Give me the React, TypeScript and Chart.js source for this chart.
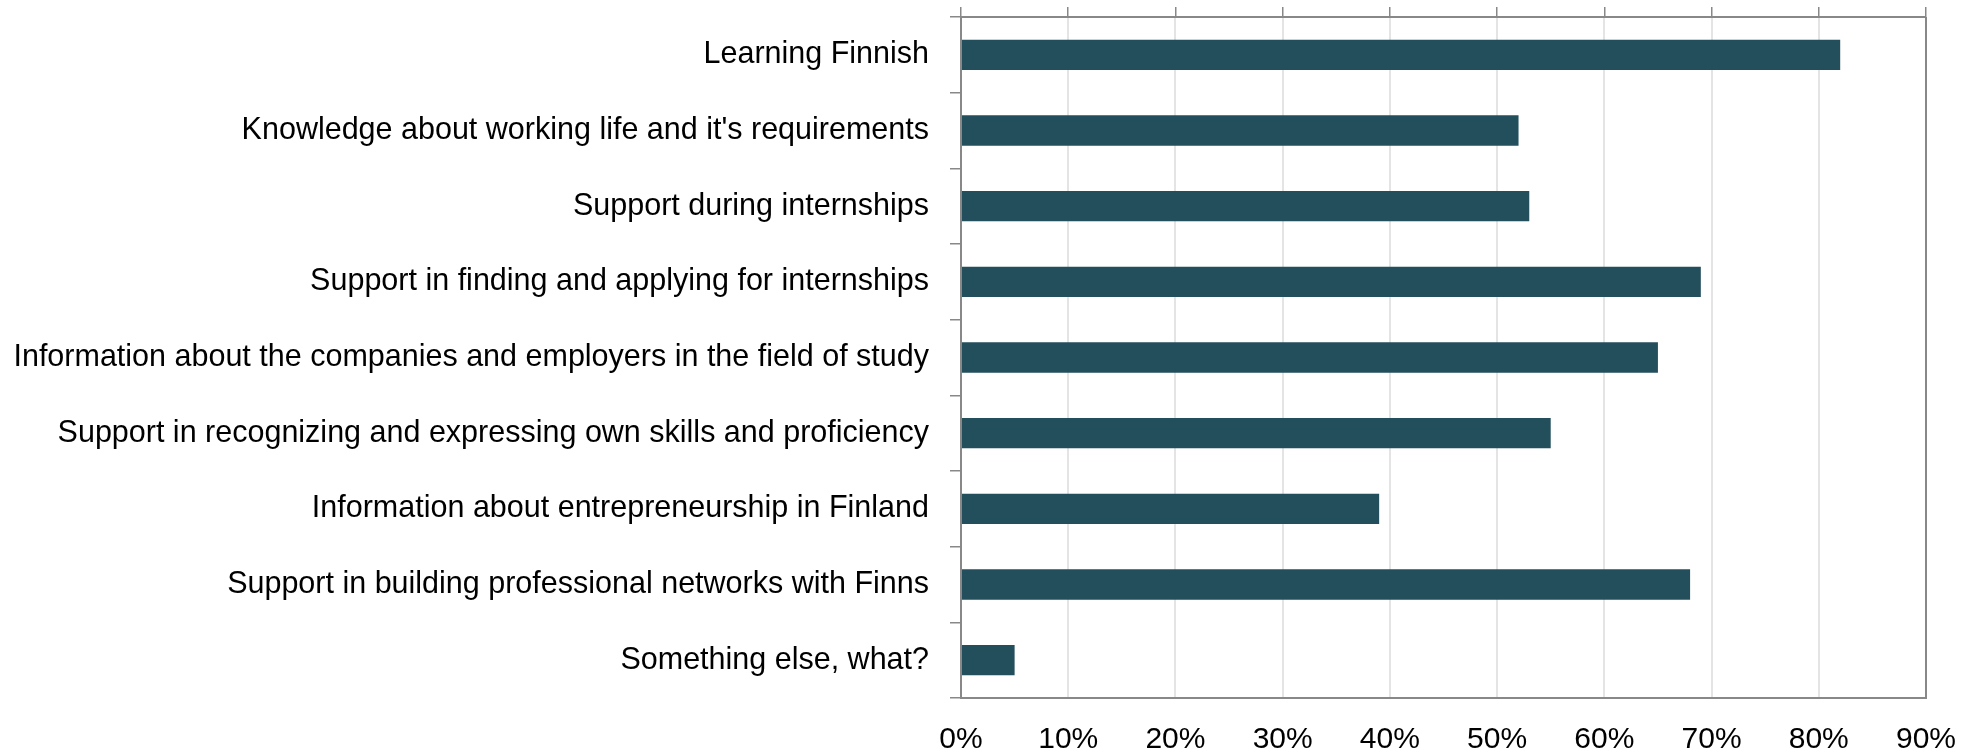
import React, { useEffect, useRef } from "react";
import { Chart, registerables } from "chart.js";

Chart.register(...registerables);

const categories: string[] = [
  "Learning Finnish",
  "Knowledge about working life and it's requirements",
  "Support during internships",
  "Support in finding and applying for internships",
  "Information about the companies and employers in the field of study",
  "Support in recognizing and expressing own skills and proficiency",
  "Information about entrepreneurship in Finland",
  "Support in building professional networks with Finns",
  "Something else, what?",
];

const values: number[] = [82, 52, 53, 69, 65, 55, 39, 68, 5];

const xTickLabels: string[] = ["0%", "10%", "20%", "30%", "40%", "50%", "60%", "70%", "80%", "90%"];

const FONT = "'Liberation Sans', Arial, sans-serif";
const BAR_COLOR = "#234E5C";
const AXIS_COLOR = "#888888";
const GRID_COLOR = "#e4e4e4";

export default function App() {
  const canvasRef = useRef<HTMLCanvasElement | null>(null);

  useEffect(() => {
    if (!canvasRef.current) return;
    const chart = new Chart(canvasRef.current, {
      type: "bar",
      data: {
        labels: categories,
        datasets: [
          {
            data: values,
            backgroundColor: BAR_COLOR,
            borderWidth: 0,
            barPercentage: 0.4,
            categoryPercentage: 1,
          },
        ],
      },
      options: {
        indexAxis: "y",
        responsive: true,
        maintainAspectRatio: false,
        animation: false,
        layout: { padding: { top: 7, right: 51, left: 0, bottom: 0 } },
        plugins: {
          legend: { display: false },
          tooltip: { enabled: false },
        },
        scales: {
          x: {
            type: "linear",
            position: "bottom",
            min: 0,
            max: 90,
            ticks: {
              stepSize: 10,
              padding: 24,
              color: "#000",
              font: { family: FONT, size: 30 },
              callback: (_v: any, i: number) => xTickLabels[i],
            },
            grid: {
              drawTicks: false,
              color: (ctx: any) => (ctx.index === xTickLabels.length - 1 ? AXIS_COLOR : GRID_COLOR),
              lineWidth: 2,
            },
            border: { color: AXIS_COLOR, width: 2 },
            afterFit: (scale: any) => {
              scale.height = 57;
            },
          },
          x2: {
            type: "linear",
            position: "top",
            min: 0,
            max: 90,
            ticks: { display: false, stepSize: 10 },
            grid: {
              drawOnChartArea: false,
              tickLength: 10,
              color: AXIS_COLOR,
              lineWidth: 1.5,
            },
            border: { color: AXIS_COLOR, width: 2 },
            afterFit: (scale: any) => {
              scale.height = 10;
            },
          },
          y: {
            type: "category",
            position: "left",
            offset: true,
            ticks: {
              padding: 21,
              color: "#000",
              font: { family: FONT, size: 30.5 },
            },
            grid: {
              offset: true,
              drawOnChartArea: false,
              tickLength: 11,
              color: AXIS_COLOR,
              lineWidth: 1.5,
            },
            border: { color: AXIS_COLOR, width: 2 },
            afterFit: (scale: any) => {
              scale.width = 961;
              scale.paddingTop = 0;
              scale.paddingBottom = 0;
            },
          },
        },
      },
    });
    return () => chart.destroy();
  }, []);

  return (
    <div style={{ position: "absolute", left: 0, top: 0, width: 1980, height: 755, background: "#fff" }}>
      <canvas ref={canvasRef} />
    </div>
  );
}
